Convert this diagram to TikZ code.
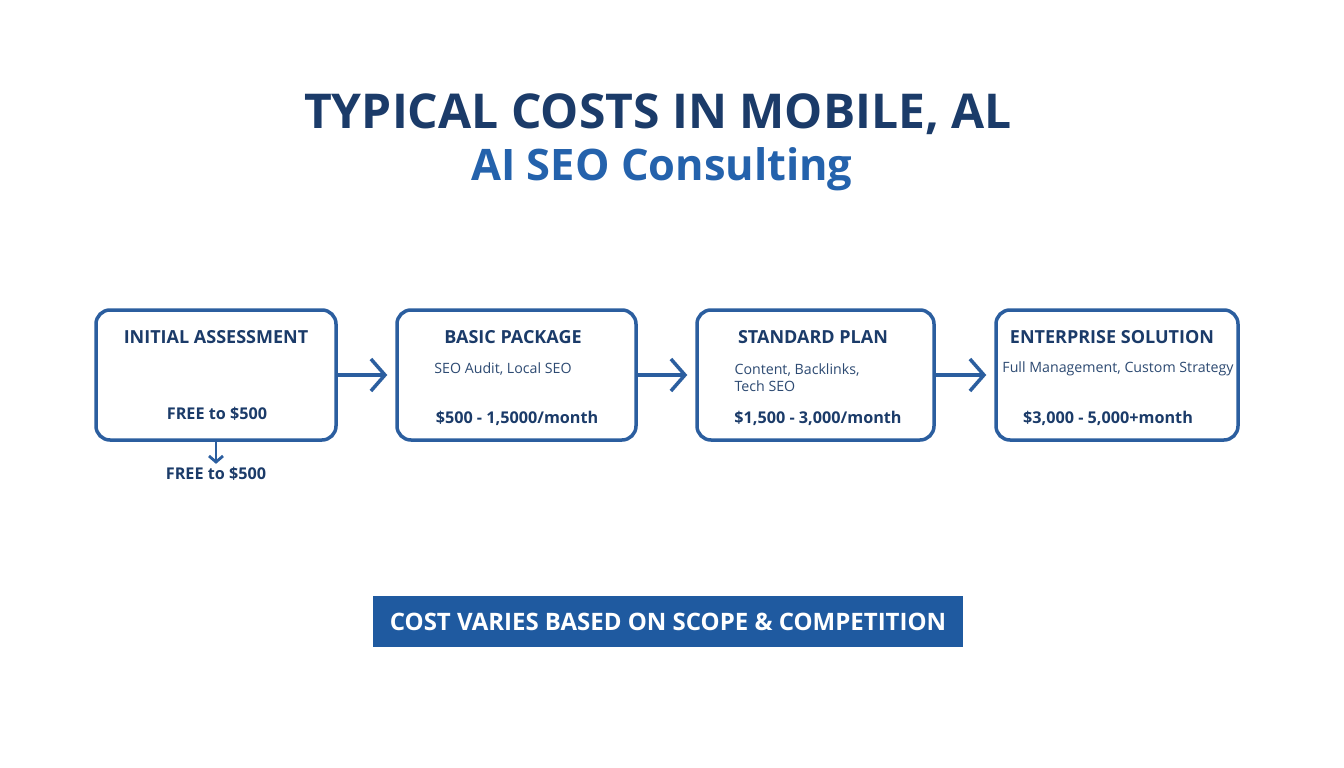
\documentclass[tikz,border=0pt]{standalone}
\usepackage{fontspec}
\setmainfont{Open Sans}
\usepackage{tikz}
\usetikzlibrary{arrows.meta,calc}
\definecolor{navy}{HTML}{1B3B69}
\definecolor{midblue}{HTML}{2462AC}
\definecolor{frameblue}{HTML}{2B5E9F}
\definecolor{bannerblue}{HTML}{1F5AA0}
\definecolor{softnavy}{HTML}{2D4A72}

\tikzset{
 tier/.style={draw=frameblue,line width=3.5pt,rounded corners=14pt,minimum width=240pt,minimum height=130pt},
 tiertitle/.style={text=navy,font=\fontsize{18}{21}\selectfont\bfseries},
 tierdesc/.style={text=softnavy,font=\fontsize{14.2}{17}\selectfont,align=left},
 tierprice/.style={text=navy,font=\fontsize{16.2}{19}\selectfont\bfseries},
 flow/.style={draw=frameblue,line width=3.5pt,-{Straight Barb[length=14pt,width=32pt,line width=3.5pt]}},
 flowsmall/.style={draw=frameblue,line width=2.8pt,-{Straight Barb[length=6pt,width=14pt,line width=2.8pt]}}
}

\begin{document}
\begin{tikzpicture}[x=1pt,y=-1pt]
 \useasboundingbox[fill=white] (0,0) rectangle (1344,768);
 % heading
 \node[text=navy,font=\fontsize{48}{54}\selectfont\bfseries] (title) at (658,114) {TYPICAL COSTS IN MOBILE, AL};
 \node[text=midblue,font=\fontsize{43.4}{50}\selectfont\bfseries] (subtitle) at (662,169) {AI SEO Consulting};
 % tiers
 \node[tier] (assess) at (216,375) {};
 \node[tier,minimum width=239pt] (basic) at (516.5,375) {};
 \node[tier,minimum width=237pt] (standard) at (815.5,375) {};
 \node[tier,minimum width=242pt] (enterprise) at (1117,375) {};
 \node[tiertitle] (assessT) at (216,337) {INITIAL ASSESSMENT};
 \node[tierprice] (assessP) at (217,414) {FREE to \$500};
 \node[tiertitle] (basicT) at (513,337) {BASIC PACKAGE};
 \node[tierdesc] (basicD) at (503,369) {SEO Audit, Local SEO};
 \node[tierprice] (basicP) at (517,418) {\$500 - 1,5000/month};
 \node[tiertitle] (standardT) at (813,337) {STANDARD PLAN};
 \node[tierdesc,anchor=west] (standardD) at (731,378) {Content, Backlinks,\\Tech SEO};
 \node[tierprice] (standardP) at (818,418) {\$1,500 - 3,000/month};
 \node[tiertitle] (enterpriseT) at (1112,337) {ENTERPRISE SOLUTION};
 \node[tierdesc] (enterpriseD) at (1118,369) {Full Management, Custom Strategy};
 \node[tierprice] (enterpriseP) at (1108,418) {\$3,000 - 5,000+month};
 \node[tierprice] (freebelow) at (216,474) {FREE to \$500};
 % connectors
 \draw[flow,shorten >=8pt] (assess) -- (basic);
 \draw[flow,shorten >=8pt] (basic) -- (standard);
 \draw[flow,shorten >=8pt] (standard) -- (enterprise);
 \draw[flowsmall] (assess.south) -- (freebelow.north);
 % banner
 \node[fill=bannerblue,text=white,minimum width=590pt,minimum height=51pt,font=\fontsize{24}{29}\selectfont\bfseries] (banner) at (668,621.5) {COST VARIES BASED ON SCOPE \& COMPETITION};
\end{tikzpicture}
\end{document}
